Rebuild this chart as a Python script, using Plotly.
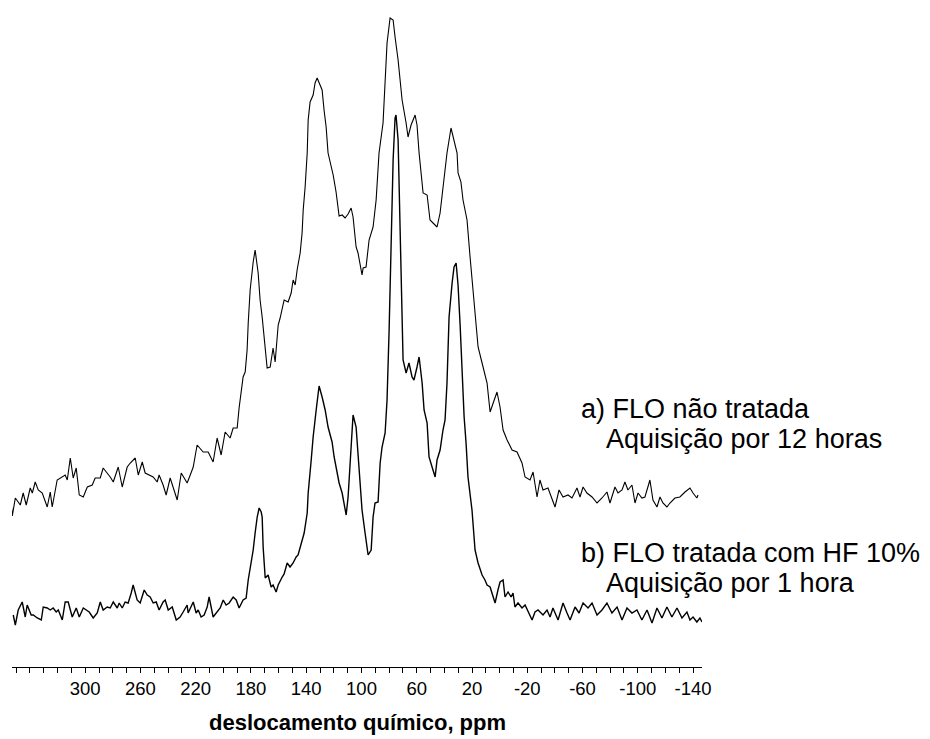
import plotly.graph_objects as go

# 13C CP-MAS spectra, chemical shift (ppm) and intensity (a.u., relative to each baseline)
ppm_a = [353.5, 352.8, 350.6, 347.0, 344.9, 342.7, 339.8, 338.3, 336.2, 334.0, 331.1, 327.5, 325.3, 323.9,
         320.3, 318.1, 314.5, 313.0, 310.8, 308.7, 306.5, 304.3, 301.4, 298.5, 294.9, 292.8, 289.1, 287.0,
         284.1, 281.9, 279.7, 276.1, 273.2, 269.6, 267.4, 263.8, 261.6, 258.7, 256.6, 253.0, 250.8, 247.9,
         246.5, 243.6, 241.4, 238.5, 236.3, 233.4, 230.5, 226.2, 222.6, 221.8, 219.0, 216.8, 214.6, 211.0,
         207.4, 204.5, 201.6, 198.7, 195.1, 192.9, 190.0, 188.6, 187.1, 185.7, 184.2, 182.8, 182.0, 180.6,
         178.4, 177.0, 174.8, 173.4, 171.9, 170.5, 168.3, 166.1, 164.0, 162.5, 160.3, 158.9, 157.4, 156.0,
         153.1, 150.9, 149.5, 148.0, 146.6, 144.4, 143.0, 142.2, 140.8, 139.3, 138.6, 137.2, 135.0, 133.6,
         132.1, 130.7, 128.5, 127.1, 125.6, 124.2, 122.7, 120.5, 118.4, 116.2, 114.0, 111.9, 109.7, 107.5,
         106.1, 103.9, 102.5, 99.6, 98.8, 96.7, 94.5, 91.6, 89.4, 87.3, 84.4, 82.9, 81.5, 79.3, 77.1, 75.7,
         73.5, 70.6, 69.2, 67.7, 66.3, 64.1, 61.2, 59.8, 58.3, 55.4, 52.5, 50.4, 48.2, 45.3, 43.1, 41.0,
         38.1, 35.2, 33.0, 30.8, 30.1, 28.0, 26.5, 23.6, 21.4, 19.2, 15.6, 12.7, 9.1, 6.9, 4.8, 1.9, -0.3,
         -2.5, -5.4, -9.0, -12.6, -16.2, -18.4, -22.0, -24.2, -27.1, -29.2, -31.4, -35.0, -37.9, -40.1,
         -43.0, -45.9, -49.5, -52.4, -56.0, -58.2, -60.4, -63.2, -66.9, -70.5, -74.1, -77.7, -79.9, -83.5,
         -85.7, -88.6, -90.7, -92.9, -95.8, -98.0, -100.2, -103.0, -105.2, -108.8, -111.0, -113.9, -116.1,
         -118.2, -121.1, -123.3, -126.9, -130.5, -134.2, -137.8, -140.0, -142.8, -143.6]
int_a = [-10, -21, -3, -10, 2, -10, 7, 2, 13, 5, 2, -12, 3, -12,
         15, 17, 20, 15, 37, 17, 27, 0, -2, 8, 10, 17, 17, 27,
         22, 18, 13, 28, 8, 28, 32, 37, 20, 33, 22, 20, 18, 13,
         20, 10, 0, 17, 8, -5, 22, 12, 25, 28, 50, 47, 43, 43,
         33, 57, 40, 63, 57, 67, 67, 87, 102, 118, 123, 145, 172, 205,
         233, 245, 222, 195, 178, 155, 127, 128, 147, 133, 170, 177, 188, 195,
         193, 202, 215, 210, 225, 242, 262, 285, 308, 342, 375, 393, 400, 412,
         417, 412, 405, 385, 368, 342, 333, 320, 303, 279, 280, 277, 281, 287,
         278, 248, 242, 220, 227, 228, 255, 268, 295, 342, 372, 412, 452, 477, 475, 458,
         435, 395, 385, 372, 358, 370, 380, 370, 342, 302, 300, 275, 272, 268, 282, 308,
         342, 367, 355, 342, 322, 313, 295, 275, 238, 202, 148, 132, 112, 83, 92, 103, 88,
         65, 55, 45, 43, 32, 18, 15, 23, -2, 15, 5, 7, -3, -12,
         5, -2, 0, -3, 7, -2, 8, 2, -2, -8, -3, 3, -8, 8,
         2, 5, 13, 5, 10, -8, 2, -3, -2, 15, -5, -12, -2,
         -8, -12, -8, -3, -2, 3, 7, 2, -3, 0]

ppm_b = [352.1, 350.6, 348.5, 345.6, 343.4, 342.0, 339.1, 337.6, 334.7, 331.8, 330.4, 327.5, 325.3, 323.2,
         321.0, 319.5, 316.6, 314.5, 312.3, 309.4, 306.5, 304.3, 301.4, 299.3, 297.1, 294.2, 291.3, 289.1,
         287.0, 284.1, 281.9, 279.7, 276.8, 275.4, 273.2, 271.1, 268.9, 266.7, 265.3, 262.4, 260.2, 257.3,
         255.1, 253.0, 250.8, 248.6, 246.5, 243.6, 242.1, 239.9, 237.0, 234.1, 231.3, 229.1, 226.2, 225.5,
         221.8, 219.7, 218.2, 216.1, 213.9, 211.7, 210.3, 207.4, 205.2, 202.3, 200.1, 198.0, 195.8, 192.9,
         190.7, 188.6, 185.7, 183.5, 182.0, 180.6, 178.4, 177.0, 175.5, 174.1, 172.6, 171.9, 171.2, 169.7,
         167.6, 165.4, 164.0, 161.8, 160.3, 157.4, 156.0, 153.8, 151.7, 149.5, 147.3, 145.9, 144.4, 143.0,
         141.5, 139.3, 138.6, 136.4, 135.0, 132.8, 131.4, 130.7, 128.5, 126.3, 124.2, 121.3, 119.8, 118.4,
         116.2, 114.0, 112.6, 111.1, 109.7, 107.5, 106.1, 103.9, 102.5, 99.6, 97.4, 95.2, 93.0, 91.6, 90.2,
         88.0, 86.5, 85.1, 82.9, 81.5, 80.0, 78.6, 77.1, 75.7, 75.0, 73.5, 72.8, 72.1, 71.3, 70.6, 69.9,
         67.7, 65.6, 63.4, 62.0, 59.8, 58.3, 56.1, 54.7, 52.5, 51.1, 48.9, 46.7, 45.3, 43.1, 41.0, 39.5,
         38.1, 36.6, 34.4, 33.0, 31.5, 30.1, 28.6, 27.2, 25.7, 24.3, 22.9, 20.0, 17.8, 15.6, 12.7, 10.6,
         9.1, 6.9, 4.8, 3.3, 1.2, -0.3, -2.5, -3.9, -6.1, -8.3, -9.7, -11.1, -13.3, -16.2, -18.4, -20.6,
         -23.5, -25.6, -27.8, -31.4, -34.3, -36.5, -38.6, -42.3, -45.9, -48.8, -51.0, -54.6, -57.5, -60.4,
         -64.0, -66.9, -70.5, -74.1, -77.7, -81.3, -85.0, -88.6, -92.2, -95.8, -99.4, -103.0, -106.7,
         -110.3, -113.9, -117.5, -121.1, -124.7, -128.4, -132.0, -135.6, -137.8, -140.0, -142.8, -145.0, -146.5]
int_b = [-3, -13, 2, 10, -5, 7, -3, -3, -6, -8, 5, 4, 2, 4,
         0, 2, -8, 10, 10, -5, 4, -5, 4, 2, 0, -6, -1, 10,
         2, 5, 4, 10, 4, 9, 4, 10, 9, 19, 27, 12, 9, 22,
         17, 15, 9, 10, 2, 10, 12, 2, 5, -8, -5, 0, 7, -1,
         10, -1, 2, -5, -3, 5, 15, -5, -1, 4, 12, 7, 9, 15,
         12, 4, 12, 14, 32, 44, 62, 79, 95, 104, 100, 95, 65, 34,
         37, 25, 27, 20, 27, 35, 38, 49, 45, 49, 55, 57, 65, 70,
         79, 99, 119, 152, 175, 202, 222, 226, 215, 202, 185, 170, 155, 145,
         129, 119, 109, 97, 115, 162, 197, 185, 155, 102, 79, 57, 62, 95, 109,
         110, 149, 165, 179, 212, 282, 362, 452, 494, 497, 472, 432, 382, 332, 292, 252,
         239, 249, 235, 232, 245, 255, 229, 202, 189, 155, 145, 135, 152, 162, 182, 192,
         229, 295, 329, 345, 349, 327, 287, 242, 195, 169, 135, 102, 62, 49, 37, 32,
         27, 25, 15, 9, 22, 30, 32, 15, 20, 15, 19, 5, 9, 4, 7, 0,
         -8, 0, 2, -3, 2, -5, 4, -8, 9, -1, -8, 5, -1, 9,
         4, 9, -3, 2, 9, -1, 5, -8, 4, -1, 2, -8, 2,
         -11, 4, -6, 5, -5, 4, -6, 0, -8, -5, -10, -6, -10]

# vertical stacking offsets of the two spectra
offset_a = 172
offset_b = 55

tick_vals = [300, 260, 220, 180, 140, 100, 60, 20, -20, -60, -100, -140]
tick_text = [str(v) for v in tick_vals]

labels_a = ["a) FLO não tratada", "Aquisição por 12 horas"]
labels_b = ["b) FLO tratada com HF 10%", "Aquisição por 1 hora"]

FONT = "Liberation Sans, Arial, Helvetica, sans-serif"

fig = go.Figure()
fig.add_trace(go.Scatter(x=ppm_a, y=[v + offset_a for v in int_a], mode="lines",
                         line=dict(color="black", width=1.1), hoverinfo="skip"))
fig.add_trace(go.Scatter(x=ppm_b, y=[v + offset_b for v in int_b], mode="lines",
                         line=dict(color="black", width=1.4), hoverinfo="skip"))

# sample labels placed beside the baselines
label_pos = [(-57.6, 258, labels_a[0]), (-75.6, 228, labels_a[1]),
             (-57.6, 114, labels_b[0]), (-75.6, 84, labels_b[1])]
for x, y, t in label_pos:
    fig.add_annotation(x=x, y=y, xref="x", yref="y", text=t, showarrow=False,
                       xanchor="left", yanchor="middle",
                       font=dict(family=FONT, size=27, color="black"))

fig.add_annotation(x=0.5, y=-0.084, xref="paper", yref="paper",
                   text="<b>deslocamento químico, ppm</b>", showarrow=False,
                   xanchor="center", yanchor="middle",
                   font=dict(family=FONT, size=22, color="black"))

fig.update_layout(
    width=930, height=739,
    margin=dict(l=12, r=228, t=10, b=72),
    paper_bgcolor="white", plot_bgcolor="white",
    showlegend=False,
    xaxis=dict(range=[353, -146.5], showgrid=False, zeroline=False,
               showline=True, linecolor="black", linewidth=1.2,
               ticks="outside", ticklen=5, tickwidth=1, tickcolor="black",
               tickvals=tick_vals, ticktext=tick_text,
               tickfont=dict(family=FONT, size=18.5, color="black"),
               ticklabelstandoff=0,
               minor=dict(dtick=10, tick0=0, ticks="outside", ticklen=5,
                          tickwidth=1, tickcolor="black")),
    yaxis=dict(range=[0, 657], visible=False, showgrid=False, zeroline=False),
)

fig.write_html("out.html")
